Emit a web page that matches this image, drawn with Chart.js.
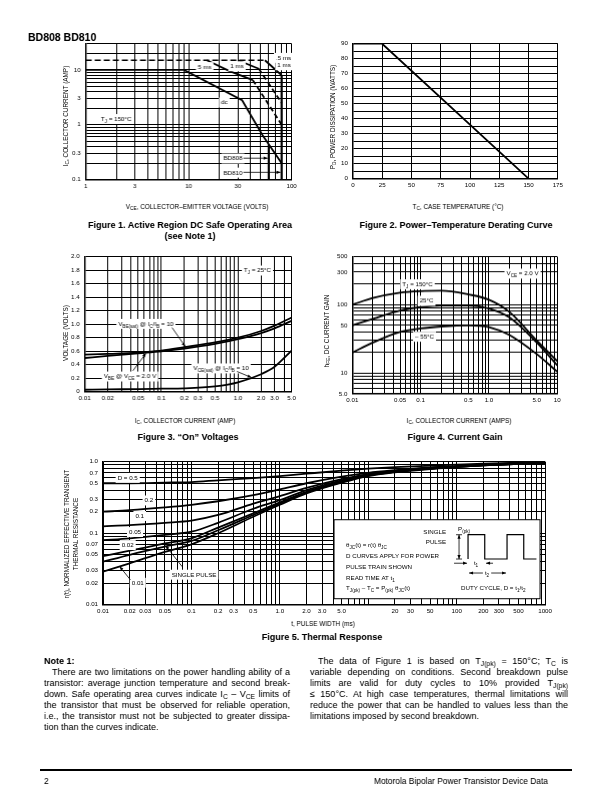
<!DOCTYPE html>
<html>
<head>
<meta charset="utf-8">
<title>BD808 BD810</title>
<script src="https://cdn.jsdelivr.net/npm/chart.js@4.4.1/dist/chart.umd.min.js"></script>
<style>
  html, body { margin: 0; padding: 0; background: #fff; }
  #page { position: relative; width: 612px; height: 792px; overflow: hidden; background: #fff;
    font-family: "Liberation Sans", Arial, Helvetica, sans-serif; color: #000; filter: grayscale(1); }
  .t { position: absolute; white-space: nowrap; line-height: 1; }
  .c { transform: translateX(-50%); }
  .v { transform: translate(-50%, -50%) rotate(-90deg); }
  .ax { font-size: 6.4px; }
  .cap { font-size: 9px; font-weight: bold; }
  sub { font-size: 75%; vertical-align: -0.3em; line-height: 0; }
  .box { position: absolute; }
  .box canvas { display: block; }
  .col { position: absolute; font-size: 8px; line-height: 11px; }
  .col div { white-space: nowrap; text-align: justify; text-align-last: justify; }
  .col div.end { text-align-last: left; }
  .col div.ind { text-indent: 8px; }
</style>
</head>
<body>
<div id="page">
  <div class="t" style="left:28px;top:32px;font-size:10.5px;font-weight:bold;">BD808 BD810</div>

  <div class="box" id="box1"><canvas id="chart1"></canvas></div>
  <div class="box" id="box2"><canvas id="chart2"></canvas></div>
  <div class="box" id="box3"><canvas id="chart3"></canvas></div>
  <div class="box" id="box4"><canvas id="chart4"></canvas></div>
  <div class="box" id="box5"><canvas id="chart5"></canvas></div>

  <!-- figure 1 -->
  <div class="t v ax" style="left:66px;top:116px;">I<sub>C</sub>, COLLECTOR CURRENT (AMP)</div>
  <div class="t c ax" style="left:197px;top:203.5px;">V<sub>CE</sub>, COLLECTOR&ndash;EMITTER VOLTAGE (VOLTS)</div>
  <div class="t c cap" style="left:190px;top:220.5px;">Figure 1. Active Region DC Safe Operating Area</div>
  <div class="t c cap" style="left:190px;top:231.5px;">(see Note 1)</div>

  <!-- figure 2 -->
  <div class="t v ax" style="left:333px;top:117px;">P<sub>D</sub>, POWER DISSIPATION (WATTS)</div>
  <div class="t c ax" style="left:458px;top:203.5px;">T<sub>C</sub>, CASE TEMPERATURE (&deg;C)</div>
  <div class="t c cap" style="left:456px;top:220.5px;">Figure 2. Power&ndash;Temperature Derating Curve</div>

  <!-- figure 3 -->
  <div class="t v ax" style="left:66px;top:333px;">VOLTAGE (VOLTS)</div>
  <div class="t c ax" style="left:185px;top:417.5px;">I<sub>C</sub>, COLLECTOR CURRENT (AMP)</div>
  <div class="t c cap" style="left:188px;top:432.5px;">Figure 3. &ldquo;On&rdquo; Voltages</div>

  <!-- figure 4 -->
  <div class="t v ax" style="left:327px;top:331px;">h<sub>FE</sub>, DC CURRENT GAIN</div>
  <div class="t c ax" style="left:459px;top:417.5px;">I<sub>C</sub>, COLLECTOR CURRENT (AMPS)</div>
  <div class="t c cap" style="left:455px;top:432.5px;">Figure 4. Current Gain</div>

  <!-- figure 5 -->
  <div class="t v ax" style="left:67px;top:534px;">r(t), NORMALIZED EFFECTIVE TRANSIENT</div>
  <div class="t v ax" style="left:75.5px;top:534px;">THERMAL RESISTANCE</div>
  <div class="t c ax" style="left:323px;top:620.5px;">t, PULSE WIDTH (ms)</div>
  <div class="t c cap" style="left:322px;top:632.5px;">Figure 5. Thermal Response</div>

  <!-- note -->
  <div class="col" id="colL" style="left:44px;top:655.5px;width:246px;">
    <div class="end" style="font-weight:bold;">Note 1:</div>
    <div class="ind">There are two limitations on the power handling ability of a</div>
    <div>transistor: average junction temperature and second break-</div>
    <div>down. Safe operating area curves indicate I<sub>C</sub> &ndash; V<sub>CE</sub> limits of</div>
    <div>the transistor that must be observed for reliable operation,</div>
    <div>i.e., the transistor must not be subjected to greater dissipa-</div>
    <div class="end">tion than the curves indicate.</div>
  </div>
  <div class="col" id="colR" style="left:310px;top:655.5px;width:258px;">
    <div class="ind">The data of Figure 1 is based on T<sub>J(pk)</sub> = 150&deg;C; T<sub>C</sub> is</div>
    <div>variable depending on conditions. Second breakdown pulse</div>
    <div>limits are valid for duty cycles to 10% provided T<sub>J(pk)</sub></div>
    <div>&le; 150&deg;C. At high case temperatures, thermal limitations will</div>
    <div>reduce the power that can be handled to values less than the</div>
    <div class="end">limitations imposed by second breakdown.</div>
  </div>

  <div style="position:absolute;left:40px;top:768.5px;width:532px;height:2.5px;background:#000;"></div>
  <div class="t" style="left:44px;top:777px;font-size:8.4px;">2</div>
  <div class="t" style="right:64px;top:777px;font-size:8.4px;">Motorola Bipolar Power Transistor Device Data</div>
</div>

<script>
// Figure 1: active region safe operating area (V_CE volts, I_C amps)
const soaDcV = [1, 9, 33, 52, 80];
const soaDcI = [10, 10, 2.8, 0.65, 0.2];
const soaBd808V = [60, 60];
const soaBd808I = [0.44, 0.1];
const soaBd810V = [80, 80];
const soaBd810I = [8, 0.1];
const soaPeakV = [1, 55];
const soaPeakI = [15, 15];
const soa5msV = [15, 25, 42];
const soa5msI = [15, 9.5, 6.5];
const soa5msSbV = [42, 80];
const soa5msSbI = [6.5, 1.0];
const soa1msV = [30, 48];
const soa1msI = [15, 10.5];
const soa1msSbV = [48, 80];
const soa1msSbI = [10.5, 2.5];
const soaHalfMsV = [55, 80];
const soaHalfMsI = [15, 8];
const soaXLabels = [1, 3, 10, 30, 100];
const soaYLabels = [0.1, 0.3, 1, 3, 10];

// Figure 2: power derating
const deratingTemp = [0, 25, 150];
const deratingPower = [90, 90, 0];

// Figure 3: "on" voltages
const onCurrent = [0.01, 0.02, 0.05, 0.1, 0.2, 0.5, 1, 2, 3, 5];
const onVbeSat = [0.55, 0.56, 0.58, 0.61, 0.66, 0.73, 0.80, 0.90, 0.98, 1.10];
const onVbe = [0.50, 0.53, 0.57, 0.60, 0.64, 0.71, 0.78, 0.87, 0.94, 1.05];
const onVceSat = [0.03, 0.035, 0.04, 0.045, 0.05, 0.08, 0.14, 0.26, 0.37, 0.61];
const onXLabels = [0.01, 0.02, 0.05, 0.1, 0.2, 0.3, 0.5, 1, 2, 3, 5];

// Figure 4: current gain
const gainCurrent = [0.01, 0.02, 0.05, 0.1, 0.2, 0.5, 1, 2, 5, 10];
const gain150 = [100, 125, 150, 158, 160, 141, 118, 78, 30, 15];
const gain25 = [50, 62, 82, 92, 97, 97, 88, 65, 28, 13];
const gainMinus55 = [20, 28, 40, 45, 48, 50, 47, 36, 19, 10.5];
const gainXLabels = [0.01, 0.05, 0.1, 0.5, 1, 5, 10];
const gainYLabels = [5, 10, 50, 100, 300, 500];

// Figure 5: thermal response
const pulseWidth = [0.01, 0.02, 0.05, 0.1, 0.2, 0.5, 1, 2, 5, 10, 20, 50, 100, 200, 500, 1000];
const rD05 = [0.50, 0.50, 0.51, 0.52, 0.55, 0.59, 0.63, 0.68, 0.75, 0.80, 0.84, 0.88, 0.91, 0.94, 0.97, 1.0];
const rD02 = [0.20, 0.21, 0.23, 0.25, 0.28, 0.34, 0.41, 0.50, 0.62, 0.70, 0.76, 0.83, 0.87, 0.91, 0.95, 0.98];
const rD01 = [0.125, 0.13, 0.14, 0.15, 0.18, 0.26, 0.33, 0.43, 0.57, 0.67, 0.74, 0.82, 0.86, 0.90, 0.94, 0.97];
const rD005 = [0.08, 0.085, 0.095, 0.105, 0.14, 0.22, 0.29, 0.40, 0.55, 0.66, 0.73, 0.81, 0.86, 0.90, 0.94, 0.97];
const rD002 = [0.048, 0.057, 0.072, 0.085, 0.12, 0.19, 0.27, 0.38, 0.53, 0.65, 0.72, 0.80, 0.85, 0.89, 0.93, 0.96];
const rD001 = [0.04, 0.05, 0.065, 0.078, 0.11, 0.18, 0.26, 0.37, 0.52, 0.64, 0.72, 0.80, 0.85, 0.89, 0.93, 0.96];
const rSingle = [0.029, 0.038, 0.055, 0.07, 0.1, 0.17, 0.25, 0.36, 0.51, 0.63, 0.71, 0.79, 0.84, 0.89, 0.93, 0.96];
const thermXLabels = [0.01, 0.02, 0.03, 0.05, 0.1, 0.2, 0.3, 0.5, 1, 2, 3, 5, 20, 30, 50, 100, 200, 300, 500, 1000];
const thermYLabels = [0.01, 0.02, 0.03, 0.05, 0.07, 0.1, 0.2, 0.3, 0.5, 0.7, 1];

// labels drawn inside the plots (data coordinates)
const soaNotes = [
  { text: "5 ms", x: 14.3, y: 11.4 },
  { text: "1 ms", x: 29.4, y: 11.8 },
  { text: ".5 ms", x: 83.5, y: 16.8 },
  { text: "1 ms", x: 84.3, y: 12.3 },
  { text: "dc", x: 22.2, y: 2.58 },
  { text: "T_{J} = 150°C", x: 1.98, y: 1.29 },
  { text: "BD808", x: 26.9, y: 0.246 },
  { arrow: [34, 0.246, 58.5, 0.246] },
  { text: "BD810", x: 26.9, y: 0.136 },
  { arrow: [34, 0.136, 78, 0.136] },
];
const onNotes = [
  { text: "T_{J} = 25°C", x: 1.79, y: 1.8 },
  { text: "V_{BE(sat)} @ I_{C}/I_{B} = 10", x: 0.063, y: 1.01 },
  { arrow: [0.138, 0.95, 0.205, 0.67] },
  { text: "V_{BE} @ V_{CE} = 2.0 V", x: 0.039, y: 0.23 },
  { arrow: [0.0425, 0.31, 0.063, 0.57] },
  { text: "V_{CE(sat)} @ I_{C}/I_{B} = 10", x: 0.6, y: 0.35 },
  { arrow: [0.97, 0.3, 1.5, 0.21] },
];
const gainNotes = [
  { text: "V_{CE} = 2.0 V", x: 3.1, y: 287 },
  { text: "T_{J} = 150°C", x: 0.09, y: 201 },
  { text: "25°C", x: 0.122, y: 115 },
  { text: "– 55°C", x: 0.114, y: 34.4 },
];
const thermNotes = [
  { text: "D = 0.5", x: 0.019, y: 0.6 },
  { text: "0.2", x: 0.033, y: 0.29 },
  { text: "0.1", x: 0.026, y: 0.176 },
  { text: "0.05", x: 0.023, y: 0.105 },
  { text: "0.02", x: 0.019, y: 0.069 },
  { text: "0.01", x: 0.0247, y: 0.0205 },
  { arrow: [0.0204, 0.0223, 0.0154, 0.0343] },
  { text: "SINGLE PULSE", x: 0.107, y: 0.0266 },
  { arrow: [0.0787, 0.034, 0.051, 0.067] },
];

const FONT = '"Liberation Sans", Arial, Helvetica, sans-serif';
Chart.defaults.font.family = FONT;
Chart.defaults.color = "#000";

function pts(xs, ys) {
  return xs.map(function (x, i) { return { x: x, y: ys[i] }; });
}

function curve(xs, ys, extra) {
  return Object.assign({
    data: pts(xs, ys),
    borderColor: "#000",
    borderWidth: 1.8,
    pointRadius: 0,
    fill: false,
    tension: 0,
  }, extra || {});
}

function smooth(xs, ys) {
  return curve(xs, ys, { cubicInterpolationMode: "monotone" });
}

// log paper: lines at 1..9 of every decade
function logGrid(min, max) {
  const out = [];
  for (let e = Math.floor(Math.log10(min)); e <= Math.ceil(Math.log10(max)); e++) {
    for (let k = 1; k < 10; k++) {
      const v = Number((k * Math.pow(10, e)).toPrecision(6));
      if (v >= min * 0.9999 && v <= max * 1.0001) out.push(v);
    }
  }
  return out;
}

function plainLabel(v) { return String(v); }
function decLabel(v) { return v >= 1 && v < 10 ? v.toFixed(1) : String(v); }

function tickOpts(pad, cb) {
  return { autoSkip: false, maxRotation: 0, padding: pad, color: "#000",
    font: { family: FONT, size: 6.2 }, callback: cb };
}
const gridOpts = { color: "#000", lineWidth: 1, drawTicks: false };
const borderOpts = { color: "#000", width: 1.5 };

function logAxis(min, max, labels, fmt, pad) {
  const grid = logGrid(min, max);
  return {
    type: "logarithmic", min: min, max: max,
    afterBuildTicks: function (s) { s.ticks = grid.map(function (v) { return { value: v }; }); },
    ticks: tickOpts(pad, function (v) {
      return labels.some(function (l) { return Math.abs(l - v) < l * 1e-6; }) ? fmt(v) : "";
    }),
    grid: gridOpts, border: borderOpts,
  };
}

function linAxis(min, max, step, cb, pad) {
  return {
    type: "linear", min: min, max: max,
    ticks: Object.assign(tickOpts(pad, cb), { stepSize: step }),
    grid: gridOpts, border: borderOpts,
  };
}

function baseOptions(scales) {
  return {
    responsive: false,
    animation: false,
    events: [],
    layout: { padding: { top: 4, right: 8, left: 0, bottom: 0 } },
    plugins: { legend: { display: false }, tooltip: { enabled: false } },
    scales: scales,
  };
}

function fontOf(size) { return size + "px " + FONT; }

// text with _{...} subscripts
function drawRich(ctx, str, x, y, size, align, boxed) {
  const parts = [];
  str.split(/(_\{[^}]*\})/).forEach(function (s) {
    if (!s) return;
    if (s.indexOf("_{") === 0) parts.push({ t: s.slice(2, -1), sub: true });
    else parts.push({ t: s, sub: false });
  });
  let w = 0;
  parts.forEach(function (p) {
    ctx.font = fontOf(p.sub ? size * 0.75 : size);
    p.w = ctx.measureText(p.t).width;
    w += p.w;
  });
  let left = align === "center" ? x - w / 2 : align === "right" ? x - w : x;
  if (boxed) {
    ctx.fillStyle = "#fff";
    ctx.fillRect(left - 2, y - size * 0.75, w + 4, size * 1.6);
  }
  ctx.fillStyle = "#000";
  ctx.textBaseline = "alphabetic";
  ctx.textAlign = "left";
  parts.forEach(function (p) {
    ctx.font = fontOf(p.sub ? size * 0.75 : size);
    ctx.fillText(p.t, left, y + size * 0.35 + (p.sub ? size * 0.3 : 0));
    left += p.w;
  });
}

function arrowHead(ctx, x1, y1, x2, y2) {
  const a = Math.atan2(y2 - y1, x2 - x1);
  const L = 4, W = 1.6;
  ctx.beginPath();
  ctx.moveTo(x2, y2);
  ctx.lineTo(x2 - L * Math.cos(a) + W * Math.sin(a), y2 - L * Math.sin(a) - W * Math.cos(a));
  ctx.lineTo(x2 - L * Math.cos(a) - W * Math.sin(a), y2 - L * Math.sin(a) + W * Math.cos(a));
  ctx.closePath();
  ctx.fill();
}

function drawArrow(ctx, x1, y1, x2, y2, both) {
  ctx.strokeStyle = "#000";
  ctx.fillStyle = "#000";
  ctx.lineWidth = 0.8;
  ctx.beginPath();
  ctx.moveTo(x1, y1);
  ctx.lineTo(x2, y2);
  ctx.stroke();
  arrowHead(ctx, x1, y1, x2, y2);
  if (both) arrowHead(ctx, x2, y2, x1, y1);
}

function notesPlugin(items) {
  return {
    id: "notes",
    afterDatasetsDraw: function (chart) {
      const ctx = chart.ctx;
      const sx = chart.scales.x, sy = chart.scales.y;
      ctx.save();
      items.forEach(function (it) {
        if (it.arrow) {
          const a = it.arrow;
          drawArrow(ctx, sx.getPixelForValue(a[0]), sy.getPixelForValue(a[1]),
            sx.getPixelForValue(a[2]), sy.getPixelForValue(a[3]));
        } else {
          drawRich(ctx, it.text, sx.getPixelForValue(it.x), sy.getPixelForValue(it.y), 6.2, "center", true);
        }
      });
      ctx.restore();
    },
  };
}

// the boxed explanation inside figure 5
const insetPlugin = {
  id: "inset",
  afterDatasetsDraw: function (chart) {
    const ctx = chart.ctx, a = chart.chartArea;
    const L = a.left + 231, T = a.top + 58, R = a.left + 437, B = a.top + 137;
    ctx.save();
    ctx.fillStyle = "#fff";
    ctx.fillRect(L, T, R - L, B - T);
    ctx.strokeStyle = "#000";
    ctx.lineWidth = 1;
    ctx.strokeRect(L, T, R - L, B - T);

    drawRich(ctx, "θ_{JC}(t) = r(t) θ_{JC}", L + 12, T + 25, 6.2, "left");
    drawRich(ctx, "D CURVES APPLY FOR POWER", L + 12, T + 36, 6.2, "left");
    drawRich(ctx, "PULSE TRAIN SHOWN", L + 12, T + 47, 6.2, "left");
    drawRich(ctx, "READ TIME AT t_{1}", L + 12, T + 58, 6.2, "left");
    drawRich(ctx, "T_{J(pk)} – T_{C} = P_{(pk)} θ_{JC}(t)", L + 12, T + 68.5, 6.2, "left");
    drawRich(ctx, "SINGLE", L + 112, T + 12, 6.2, "right");
    drawRich(ctx, "PULSE", L + 112, T + 22, 6.2, "right");
    drawRich(ctx, "P_{(pk)}", L + 124, T + 9, 6.2, "left");
    drawRich(ctx, "DUTY CYCLE, D = t_{1}/t_{2}", L + 127, T + 68.5, 6.2, "left");

    // pulse train
    const lo = T + 39.3, hi = T + 15;
    ctx.strokeStyle = "#000";
    ctx.lineWidth = 1.2;
    ctx.beginPath();
    ctx.moveTo(L + 134, lo);
    ctx.lineTo(L + 134, hi);
    ctx.lineTo(L + 150.7, hi);
    ctx.lineTo(L + 150.7, lo);
    ctx.lineTo(L + 173, lo);
    ctx.lineTo(L + 173, hi);
    ctx.lineTo(L + 189.7, hi);
    ctx.lineTo(L + 189.7, lo);
    ctx.lineTo(L + 202.4, lo);
    ctx.stroke();
    ctx.lineWidth = 0.8;
    ctx.beginPath();
    ctx.moveTo(L + 122, hi); ctx.lineTo(L + 128, hi);
    ctx.moveTo(L + 122, lo); ctx.lineTo(L + 128, lo);
    ctx.stroke();
    drawArrow(ctx, L + 125, hi, L + 125, lo, true);
    drawArrow(ctx, L + 120, T + 43.5, L + 133, T + 43.5);
    drawArrow(ctx, L + 159, T + 43.5, L + 152, T + 43.5);
    drawRich(ctx, "t_{1}", L + 142, T + 43, 6.2, "center");
    drawArrow(ctx, L + 135, T + 53.3, L + 172, T + 53.3, true);
    drawRich(ctx, "t_{2}", L + 153, T + 53, 6.2, "center", true);
    ctx.restore();
  },
};

// size the canvas so the plot area lands on the given page rectangle
function mount(boxId, canvasId, area, config) {
  const box = document.getElementById(boxId);
  const canvas = document.getElementById(canvasId);
  canvas.width = area.w + 50;
  canvas.height = area.h + 30;
  const chart = new Chart(canvas, config);
  let a = chart.chartArea;
  chart.resize(canvas.width + area.w - (a.right - a.left), canvas.height + area.h - (a.bottom - a.top));
  a = chart.chartArea;
  box.style.left = area.x - a.left + "px";
  box.style.top = area.y - a.top + "px";
  return chart;
}

// pick the largest note font whose longest line still fits the column
function fitColumn(id) {
  const col = document.getElementById(id);
  const lines = Array.prototype.slice.call(col.children);
  const limit = col.clientWidth * 0.995;
  for (let size = 9; size > 6; size -= 0.1) {
    col.style.fontSize = size.toFixed(1) + "px";
    let widest = 0;
    lines.forEach(function (d) {
      d.style.display = "inline-block";
      widest = Math.max(widest, d.getBoundingClientRect().width);
      d.style.display = "";
    });
    if (widest <= limit) break;
  }
}
fitColumn("colL");
fitColumn("colR");

// Figure 1
mount("box1", "chart1", { x: 86, y: 44, w: 205, h: 144 }, {
  type: "line",
  data: {
    datasets: [
      curve(soaPeakV, soaPeakI, { borderWidth: 1.3, borderDash: [6, 3] }),
      curve(soaDcV, soaDcI),
      curve(soaBd808V, soaBd808I, { borderWidth: 2.2 }),
      curve(soaBd810V, soaBd810I, { borderWidth: 2.2 }),
      curve(soa5msV, soa5msI),
      curve(soa5msSbV, soa5msSbI, { borderDash: [5, 3] }),
      curve(soa1msV, soa1msI),
      curve(soa1msSbV, soa1msSbI, { borderDash: [5, 3] }),
      curve(soaHalfMsV, soaHalfMsI),
    ],
  },
  options: baseOptions({
    x: logAxis(1, 100, soaXLabels, plainLabel, 3),
    y: logAxis(0.1, 30, soaYLabels, plainLabel, 5),
  }),
  plugins: [notesPlugin(soaNotes)],
});

// Figure 2
mount("box2", "chart2", { x: 353, y: 44, w: 205, h: 144 }, {
  type: "line",
  data: { datasets: [curve(deratingTemp, deratingPower)] },
  options: baseOptions({
    x: linAxis(0, 175, 25, function (v) { return String(v); }, 3),
    y: linAxis(0, 90, 5, function (v) { return v % 10 === 0 ? String(v) : ""; }, 5),
  }),
});

// Figure 3
mount("box3", "chart3", { x: 85, y: 257, w: 206, h: 143 }, {
  type: "line",
  data: {
    datasets: [
      smooth(onCurrent, onVbeSat),
      smooth(onCurrent, onVbe),
      smooth(onCurrent, onVceSat),
    ],
  },
  options: baseOptions({
    x: logAxis(0.01, 5, onXLabels, decLabel, 3),
    y: linAxis(0, 2, 0.2, function (v) { return v === 0 ? "0" : v.toFixed(1); }, 5),
  }),
  plugins: [notesPlugin(onNotes)],
});

// Figure 4
mount("box4", "chart4", { x: 352, y: 257, w: 205, h: 143 }, {
  type: "line",
  data: {
    datasets: [
      smooth(gainCurrent, gain150),
      smooth(gainCurrent, gain25),
      smooth(gainCurrent, gainMinus55),
    ],
  },
  options: baseOptions({
    x: logAxis(0.01, 10, gainXLabels, decLabel, 3),
    y: logAxis(5, 500, gainYLabels, decLabel, 5),
  }),
  plugins: [notesPlugin(gainNotes)],
});

// Figure 5
mount("box5", "chart5", { x: 103, y: 462, w: 447, h: 143 }, {
  type: "line",
  data: {
    datasets: [
      smooth(pulseWidth, rD05),
      smooth(pulseWidth, rD02),
      smooth(pulseWidth, rD01),
      smooth(pulseWidth, rD005),
      smooth(pulseWidth, rD002),
      smooth(pulseWidth, rD001),
      smooth(pulseWidth, rSingle),
    ],
  },
  options: baseOptions({
    x: logAxis(0.01, 1000, thermXLabels, decLabel, 3),
    y: logAxis(0.01, 1, thermYLabels, decLabel, 5),
  }),
  plugins: [notesPlugin(thermNotes), insetPlugin],
});
</script>
</body>
</html>
